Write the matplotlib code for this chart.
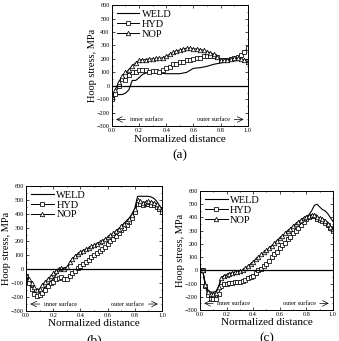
import matplotlib
matplotlib.use("Agg")
import matplotlib.pyplot as plt

plt.rcParams['font.family'] = ['Liberation Serif', 'DejaVu Serif']

# panel (a)
a_x = [0.0, 0.025, 0.05, 0.075, 0.1, 0.125, 0.15, 0.175, 0.2, 0.225, 0.25, 0.275, 0.3, 0.325,
       0.35, 0.375, 0.4, 0.425, 0.45, 0.475, 0.5, 0.525, 0.55, 0.575, 0.6, 0.625, 0.65, 0.675,
       0.7, 0.725, 0.75, 0.775, 0.8, 0.825, 0.85, 0.875, 0.9, 0.925, 0.95, 0.975, 1.0]
a_nop = [-80, -30, 30, 70, 100, 120, 150, 170, 190, 195, 195, 200, 200, 205,
         205, 210, 220, 235, 250, 260, 265, 275, 280, 280, 275, 275, 270, 265,
         255, 245, 235, 215, 190, 190, 195, 200, 205, 205, 200, 190, 180]
a_hyd = [-100, -60, 0, 50, 40, 80, 100, 105, 115, 120, 115, 105, 110, 110,
         105, 115, 130, 140, 160, 165, 175, 180, 190, 195, 200, 205, 210, 220,
         225, 225, 225, 215, 195, 190, 195, 200, 205, 215, 230, 255, 280]
a_weld_x = [0.0, 0.025, 0.05, 0.075, 0.1, 0.125, 0.15, 0.175, 0.2, 0.225, 0.25, 0.275, 0.3,
            0.35, 0.4, 0.45, 0.5, 0.55, 0.575, 0.6, 0.65, 0.7, 0.75, 0.8, 0.85, 0.9, 0.95, 1.0]
a_weld = [-130, -70, -65, -65, -55, -30, 40, 40, 60, 85, 95, 100, 100,
          95, 90, 90, 90, 100, 115, 130, 135, 145, 160, 170, 180, 185, 190, 195]

# panels (b) and (c) share the same x positions
bc_x = [0.0, 0.02, 0.04, 0.06, 0.08, 0.1, 0.12, 0.14, 0.16, 0.18, 0.2, 0.22, 0.24, 0.26,
        0.28, 0.3, 0.32, 0.34, 0.36, 0.38, 0.4, 0.42, 0.44, 0.46, 0.48, 0.5, 0.52, 0.54,
        0.56, 0.58, 0.6, 0.62, 0.64, 0.66, 0.68, 0.7, 0.72, 0.74, 0.76, 0.78, 0.8, 0.82,
        0.84, 0.86, 0.88, 0.9, 0.92, 0.94, 0.96, 0.98, 1.0]
b_weld = [-30, -80, -120, -160, -195, -190, -160, -130, -110, -90, -70, -40, -10, 5,
          10, 10, 40, 70, 90, 110, 120, 130, 140, 150, 160, 170, 180, 190,
          200, 215, 225, 240, 255, 270, 290, 310, 330, 350, 370, 400, 440, 525,
          525, 525, 525, 525, 520, 510, 490, 460, 430]
b_nop = [-40, -70, -100, -130, -150, -140, -110, -90, -70, -50, -30, -10, 5, 10,
         5, 15, 50, 75, 95, 110, 125, 135, 145, 155, 165, 175, 185, 195,
         205, 215, 230, 245, 260, 275, 290, 310, 325, 345, 365, 390, 430, 495,
         490, 480, 485, 490, 485, 480, 470, 450, 430]
b_hyd = [-50, -100, -140, -180, -195, -185, -170, -150, -120, -100, -90, -70, -60, -55,
         -70, -70, -50, -30, -10, 10, 20, 40, 55, 70, 85, 100, 115, 130,
         145, 160, 180, 200, 220, 240, 260, 280, 300, 320, 340, 370, 410, 470,
         470, 465, 470, 470, 465, 460, 450, 430, 410]
c_weld = [0, 0, -100, -150, -165, -165, -160, -120, -60, -40, -35, -25, -20, -15,
          -10, -5, 0, 15, 30, 45, 60, 80, 100, 115, 130, 150, 165, 185,
          200, 220, 240, 255, 275, 295, 310, 330, 350, 365, 380, 395, 405, 420,
          450, 490, 500, 480, 460, 450, 430, 400, 370]
c_nop = [0, 0, -110, -165, -180, -180, -170, -130, -60, -40, -35, -25, -20, -15,
         -10, -5, 0, 15, 30, 45, 65, 85, 100, 120, 135, 150, 170, 185,
         205, 225, 245, 260, 280, 300, 315, 335, 350, 365, 380, 395, 405, 410,
         420, 415, 405, 395, 385, 370, 350, 330, 310]
c_hyd = [0, 0, -120, -190, -215, -220, -220, -180, -120, -100, -100, -95, -95, -90,
         -90, -85, -80, -75, -60, -50, -40, -20, 0, 10, 30, 50, 70, 100,
         120, 140, 165, 190, 210, 235, 255, 280, 300, 320, 345, 365, 385, 405,
         410, 410, 390, 380, 370, 360, 340, 320, 295]

y_ticks = [-300, -200, -100, 0, 100, 200, 300, 400, 500, 600]
x_ticks = [0.0, 0.2, 0.4, 0.6, 0.8, 1.0]


def draw_panel(ax, weld_x, weld, hyd_x, hyd, nop_x, nop, tag):
    ax.plot(weld_x, weld, color='black', lw=0.8, label='WELD')
    ax.plot(hyd_x, hyd, color='black', lw=0.7, marker='s', ms=3.0, mfc='white',
            mew=0.55, label='HYD')
    ax.plot(nop_x, nop, color='black', lw=0.7, marker='^', ms=3.2, mfc='white',
            mew=0.55, label='NOP')
    ax.axhline(0, color='black', lw=0.9)
    ax.set_xlim(0, 1)
    ax.set_ylim(-300, 600)
    ax.set_xticks(x_ticks)
    ax.set_yticks(y_ticks)
    ax.set_xticks([0.1, 0.3, 0.5, 0.7, 0.9], minor=True)
    ax.set_yticks([-250, -150, -50, 50, 150, 250, 350, 450, 550], minor=True)
    ax.tick_params(which='both', direction='in', top=True, right=True, labelsize=4.5,
                   width=0.5, pad=1.5)
    ax.tick_params(which='major', length=2)
    ax.tick_params(which='minor', length=1)
    for s in ax.spines.values():
        s.set_linewidth(0.7)
    ax.set_xlabel('Normalized distance', fontsize=8, labelpad=1)
    ax.set_ylabel('Hoop stress, MPa', fontsize=7.5, labelpad=0)
    ax.legend(loc='upper left', frameon=False, fontsize=7.5, handlelength=2.2,
              handletextpad=0.25, labelspacing=0.05, borderaxespad=0.15,
              borderpad=0.3)
    # inner / outer surface marks
    ax.annotate('', xy=(0.01, -250), xytext=(0.12, -250),
                arrowprops=dict(arrowstyle='->', lw=0.5, color='black'))
    ax.text(0.13, -250, 'inner surface', fontsize=4.5, va='center', ha='left')
    ax.text(0.87, -250, 'outer surface', fontsize=4.5, va='center', ha='right')
    ax.annotate('', xy=(0.99, -250), xytext=(0.88, -250),
                arrowprops=dict(arrowstyle='->', lw=0.5, color='black'))
    ax.text(0.5, -0.19, tag, transform=ax.transAxes, fontsize=9.5, ha='center', va='top')


fig = plt.figure(figsize=(3.39, 3.41), dpi=100)
ax_a = fig.add_axes([0.330, 0.630, 0.401, 0.355])
ax_b = fig.add_axes([0.077, 0.088, 0.401, 0.367])
ax_c = fig.add_axes([0.590, 0.091, 0.392, 0.349])

draw_panel(ax_a, a_weld_x, a_weld, a_x, a_hyd, a_x, a_nop, '(a)')
draw_panel(ax_b, bc_x, b_weld, bc_x, b_hyd, bc_x, b_nop, '(b)')
draw_panel(ax_c, bc_x, c_weld, bc_x, c_hyd, bc_x, c_nop, '(c)')

fig.savefig('out.png', dpi=100)
